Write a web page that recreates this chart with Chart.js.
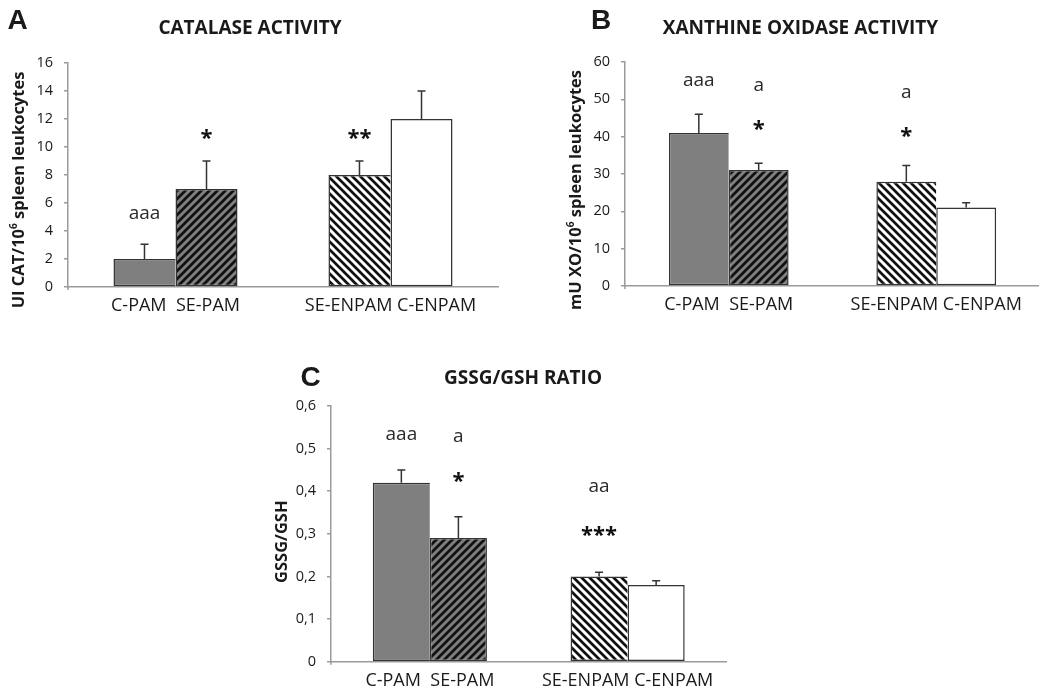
<!DOCTYPE html>
<html>
<head>
<meta charset="utf-8">
<script src="https://cdn.jsdelivr.net/npm/chart.js@4.4.1/dist/chart.umd.min.js"></script>
<style>
  html, body { margin: 0; padding: 0; background: #fff; overflow: hidden; width: 1039px; height: 694px; }
  canvas { position: absolute; }
</style>
</head>
<body>
<canvas id="chartA" width="520" height="320" style="left:0;top:0"></canvas>
<canvas id="chartB" width="521" height="320" style="left:520px;top:0"></canvas>
<canvas id="chartC" width="480" height="364" style="left:270px;top:330px"></canvas>
<script>
// bar order in every panel
const barNames = ['C-PAM', 'SE-PAM', 'SE-ENPAM', 'C-ENPAM'];
const groupLabels = [barNames[0] + '  ' + barNames[1], barNames[2] + ' ' + barNames[3]];

// A - catalase activity
const catalaseMean = [2, 7, 8, 12];
const catalaseSem = [1.05, 2, 1, 2];
const catalaseMarks = [[['aaa', 5.2]], [['*', 10.9]], [['**', 10.9]], []];
const catalaseTicks = { max: 16, step: 2 };

// B - xanthine oxidase activity
const xoMean = [41, 31.1, 27.9, 21];
const xoSem = [5, 1.8, 4.4, 1.3];
const xoMarks = [[['aaa', 54.8]], [['a', 53.7], ['*', 43]], [['a', 51.8], ['*', 41]], []];
const xoTicks = { max: 60, step: 10 };

// C - GSSG/GSH ratio
const ratioMean = [0.42, 0.29, 0.2, 0.18];
const ratioSem = [0.03, 0.05, 0.01, 0.01];
const ratioMarks = [[['aaa', 0.531]], [['a', 0.527], ['*', 0.432]], [['aa', 0.409], ['***', 0.306]], []];
const ratioTicks = { max: 0.6, step: 0.1 };

const INK = '#1a1a1a';
const AXIS = '#9a9a9a';
const GRAY = '#7f7f7f';

function hatch(ctx, bg, dir) {
    const t = 8;
    const c = document.createElement('canvas');
    c.width = t; c.height = t;
    const g = c.getContext('2d');
    g.fillStyle = bg;
    g.fillRect(0, 0, t, t);
    g.strokeStyle = '#111';
    g.lineWidth = 2.7;
    g.beginPath();
    if (dir === '/') {
        g.moveTo(-2, t + 2); g.lineTo(t + 2, -2);
        g.moveTo(-2, 2); g.lineTo(2, -2);
        g.moveTo(t - 2, t + 2); g.lineTo(t + 2, t - 2);
    } else {
        g.moveTo(-2, -2); g.lineTo(t + 2, t + 2);
        g.moveTo(-2, t - 2); g.lineTo(2, t + 2);
        g.moveTo(t - 2, -2); g.lineTo(t + 2, 2);
    }
    g.stroke();
    return ctx.createPattern(c, 'repeat');
}

function drawYTitle(ctx, parts, x, y) {
    ctx.save();
    ctx.translate(x, y);
    ctx.rotate(-Math.PI / 2);
    ctx.fillStyle = INK;
    ctx.textBaseline = 'middle';
    ctx.textAlign = 'left';
    const big = 'bold 16.5px "Open Sans"', small = 'bold 10px "Open Sans"';
    let total = 0;
    parts.forEach(p => { ctx.font = p.sup ? small : big; total += ctx.measureText(p.t).width; });
    let cx = -total / 2;
    parts.forEach(p => {
        ctx.font = p.sup ? small : big;
        ctx.fillText(p.t, cx, p.sup ? -5 : 0);
        cx += ctx.measureText(p.t).width;
    });
    ctx.restore();
}

function makeChart(id, mean, sem, marks, yt, box, deco) {
    const canvas = document.getElementById(id);
    const ctx = canvas.getContext('2d');
    const W = canvas.width, H = canvas.height;

    const colsFirst = [GRAY, hatch(ctx, '#fff', '\\')];
    const colsSecond = [hatch(ctx, GRAY, '/'), '#fff'];

    const overlay = {
        id: 'overlay',
        afterDatasetsDraw(chart) {
            const c = chart.ctx;
            const ys = chart.scales.y;
            c.save();
            // y axis runs a little below the x axis, as in the original
            c.strokeStyle = AXIS;
            c.lineWidth = 1.5;
            c.beginPath();
            c.moveTo(chart.chartArea.left, chart.chartArea.bottom);
            c.lineTo(chart.chartArea.left, chart.chartArea.bottom + 3);
            c.stroke();
            // error bars, upward only
            mean.forEach((m, i) => {
                const bar = chart.getDatasetMeta(i % 2).data[Math.floor(i / 2)];
                const top = ys.getPixelForValue(m + sem[i]);
                c.strokeStyle = '#333';
                c.lineWidth = 1.5;
                c.beginPath();
                c.moveTo(bar.x, bar.y);
                c.lineTo(bar.x, top);
                c.moveTo(bar.x - 4, top);
                c.lineTo(bar.x + 4, top);
                c.stroke();
            });
            // significance letters and stars
            marks.forEach((list, i) => {
                const bar = chart.getDatasetMeta(i % 2).data[Math.floor(i / 2)];
                list.forEach(([txt, v]) => {
                    const star = txt.includes('*');
                    c.font = star ? 'bold 22px "Open Sans"' : '19px "Open Sans"';
                    c.fillStyle = star ? '#111' : '#2a2a2a';
                    c.textAlign = 'center';
                    c.textBaseline = 'alphabetic';
                    const m = c.measureText(txt);
                    const cy = ys.getPixelForValue(v);
                    c.fillText(txt, bar.x, cy + (m.actualBoundingBoxAscent - m.actualBoundingBoxDescent) / 2);
                });
            });
            c.restore();
        },
        afterDraw(chart) {
            const c = chart.ctx;
            c.save();
            c.fillStyle = INK;
            c.textAlign = 'center';
            c.textBaseline = 'middle';
            c.font = 'bold 28px "Liberation Sans"';
            c.fillText(deco.letter, deco.letterX, deco.letterY);
            c.font = 'bold 19px "Open Sans"';
            c.fillText(deco.title, deco.titleX, deco.titleY);
            c.restore();
            drawYTitle(c, deco.yTitle, deco.yTitleX, deco.yTitleY);
        }
    };

    return new Chart(ctx, {
        type: 'bar',
        data: {
            labels: groupLabels,
            datasets: [
                // left bar of each pair: its right edge is drawn by the neighbour
                { data: [mean[0], mean[2]], backgroundColor: colsFirst,
                  borderWidth: { top: 1.5, left: 1.5, bottom: 1.5, right: 0 } },
                { data: [mean[1], mean[3]], backgroundColor: colsSecond,
                  borderWidth: 1.5 }
            ]
        },
        options: {
            responsive: false,
            animation: false,
            devicePixelRatio: 1,
            layout: { padding: { top: box.top, left: 0, right: W - box.right, bottom: 0 } },
            datasets: {
                bar: {
                    categoryPercentage: 0.577,
                    barPercentage: 1,
                    borderColor: '#333',
                    borderSkipped: false
                }
            },
            plugins: { legend: { display: false }, tooltip: { enabled: false } },
            scales: {
                x: {
                    ticks: { color: INK, font: { family: 'Open Sans', size: 18 }, padding: 8, maxRotation: 0, autoSkip: false },
                    grid: { drawOnChartArea: false, drawTicks: false },
                    border: { color: AXIS, width: 1.5 },
                    afterFit: s => { s.height = H - box.bottom; }
                },
                y: {
                    min: 0,
                    max: yt.max,
                    ticks: {
                        stepSize: yt.step,
                        color: INK,
                        padding: 11,
                        font: { family: 'Open Sans', size: 14.5 },
                        callback: deco.fmt
                    },
                    grid: { drawOnChartArea: false, drawTicks: true, tickLength: 4, color: AXIS, lineWidth: 1.5 },
                    border: { color: AXIS, width: 1.5 },
                    afterFit: s => { s.width = box.left; }
                }
            }
        },
        plugins: [overlay]
    });
}

const plainFmt = v => String(v);
const commaFmt = v => (v === 0 ? '0' : v.toFixed(1).replace('.', ','));

makeChart('chartA', catalaseMean, catalaseSem, catalaseMarks, catalaseTicks,
    { left: 68, right: 498, top: 63, bottom: 287 },
    {
        letter: 'A', letterX: 17.5, letterY: 21,
        title: 'CATALASE ACTIVITY', titleX: 250, titleY: 29,
        yTitle: [{ t: 'UI CAT/10' }, { t: '6', sup: true }, { t: ' spleen leukocytes' }],
        yTitleX: 19.5, yTitleY: 190, fmt: plainFmt
    });

makeChart('chartB', xoMean, xoSem, xoMarks, xoTicks,
    { left: 105, right: 520, top: 62, bottom: 286 },
    {
        letter: 'B', letterX: 81, letterY: 21,
        title: 'XANTHINE OXIDASE ACTIVITY', titleX: 280.5, titleY: 29,
        yTitle: [{ t: 'mU XO/10' }, { t: '6', sup: true }, { t: ' spleen leukocytes' }],
        yTitleX: 56, yTitleY: 190, fmt: plainFmt
    });

makeChart('chartC', ratioMean, ratioSem, ratioMarks, ratioTicks,
    { left: 61, right: 456.5, top: 76, bottom: 331.7 },
    {
        letter: 'C', letterX: 40.5, letterY: 48.5,
        title: 'GSSG/GSH RATIO', titleX: 253, titleY: 49,
        yTitle: [{ t: 'GSSG/GSH' }],
        yTitleX: 12, yTitleY: 211.7, fmt: commaFmt
    });
</script>
</body>
</html>
